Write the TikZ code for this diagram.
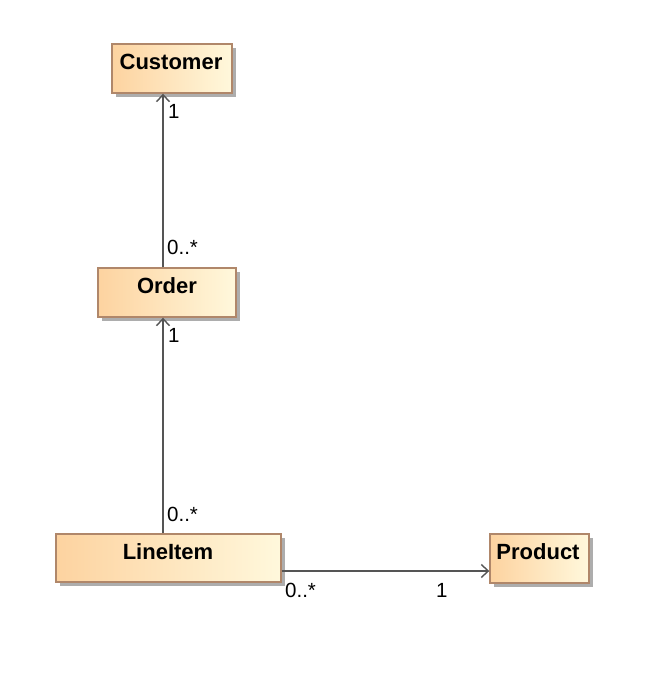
\documentclass[tikz,border=0pt]{standalone}
\usepackage{fontspec}
\setmainfont{Liberation Sans}
\usetikzlibrary{arrows.meta,shadows}
\definecolor{boxleft}{HTML}{FDD3A0}
\definecolor{boxright}{HTML}{FFF8DC}
\definecolor{boxborder}{HTML}{B0876A}
\definecolor{linecol}{HTML}{555555}
\tikzset{
  classbox/.style={draw=boxborder, line width=1.4pt, left color=boxleft, right color=boxright,
    inner sep=0pt, drop shadow={shadow xshift=4pt, shadow yshift=-4pt, fill=black!32, opacity=1}},
  classname/.style={font=\fontsize{22}{26}\selectfont\bfseries, anchor=center, inner sep=0pt},
  mult/.style={font=\fontsize{20.5}{24}\selectfont, anchor=west, inner sep=0pt},
  assoc/.style={draw=linecol, line width=1.4pt, -{Straight Barb[length=7pt,width=13pt,line width=1.4pt]}},
  plain/.style={draw=linecol, line width=1.4pt}
}
\begin{document}
\begin{tikzpicture}[x=1pt,y=-1pt]
\useasboundingbox (0,0) rectangle (668,678);
\node[classbox, minimum width=120pt, minimum height=49pt] (customer) at (172,68.5) {};
\node[classname] (customerT) at (171,62) {Customer};
\node[classbox, minimum width=138pt, minimum height=49pt] (order) at (167,292.5) {};
\node[classname] (orderT) at (167,286) {Order};
\node[classbox, minimum width=225pt, minimum height=48pt] (lineitem) at (168.5,558) {};
\node[classname] (lineitemT) at (168,552) {LineItem};
\node[classbox, minimum width=99pt, minimum height=49pt] (product) at (539.5,558.5) {};
\node[classname] (productT) at (538,552) {Product};
\coordinate (vx) at (163,0);
\coordinate (hy) at (0,571);
\draw[assoc] (vx |- order.north) -- (vx |- customer.south);
\draw[assoc] (vx |- lineitem.north) -- (vx |- order.south);
\draw[assoc] (lineitem.east |- hy) -- (product.west |- hy);
\node[mult] (m1) at (168,111) {1};
\node[mult] (m2) at (167,247) {0..*};
\node[mult] (m3) at (168,335) {1};
\node[mult] (m4) at (167,514) {0..*};
\node[mult] (m5) at (285,590) {0..*};
\node[mult] (m6) at (436,590) {1};
\end{tikzpicture}
\end{document}
